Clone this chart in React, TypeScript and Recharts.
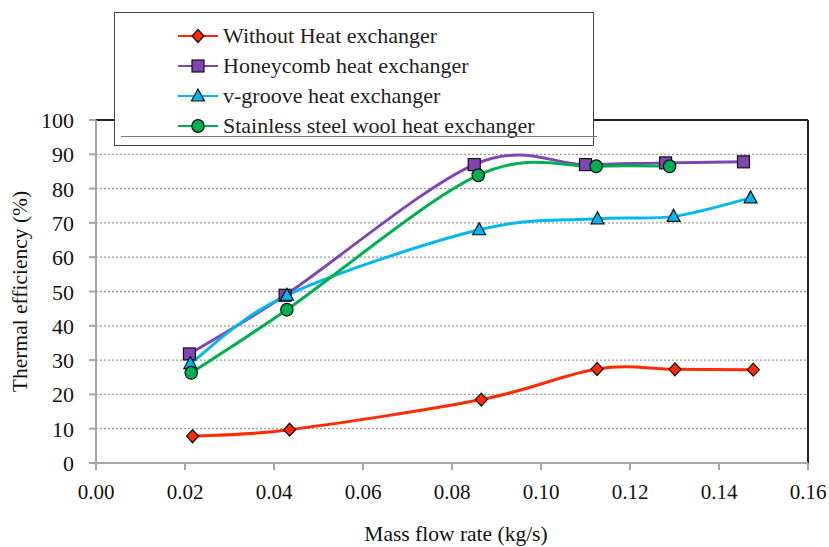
import React from 'react';
import { LineChart, Line, XAxis, YAxis, CartesianGrid, ReferenceLine } from 'recharts';

const withoutHx = [
  { x: 0.0217, y: 7.8 },
  { x: 0.0435, y: 9.7 },
  { x: 0.0866, y: 18.5 },
  { x: 0.1126, y: 27.4 },
  { x: 0.1301, y: 27.3 },
  { x: 0.1477, y: 27.2 },
];

const honeycomb = [
  { x: 0.021, y: 31.8 },
  { x: 0.0425, y: 48.9 },
  { x: 0.085, y: 87.0 },
  { x: 0.110, y: 87.0 },
  { x: 0.128, y: 87.5 },
  { x: 0.1455, y: 87.8 },
];

const vGroove = [
  { x: 0.0212, y: 29.0 },
  { x: 0.0429, y: 48.9 },
  { x: 0.0861, y: 68.0 },
  { x: 0.1127, y: 71.2 },
  { x: 0.1298, y: 71.9 },
  { x: 0.1471, y: 77.3 },
];

const steelWool = [
  { x: 0.0214, y: 26.3 },
  { x: 0.0429, y: 44.7 },
  { x: 0.0859, y: 83.9 },
  { x: 0.1124, y: 86.5 },
  { x: 0.1289, y: 86.5 },
];

const xTicks = [0, 0.02, 0.04, 0.06, 0.08, 0.1, 0.12, 0.14, 0.16];
const yTicks = [0, 10, 20, 30, 40, 50, 60, 70, 80, 90, 100];

const seriesNames = [
  'Without Heat exchanger',
  'Honeycomb heat exchanger',
  'v-groove heat exchanger',
  'Stainless steel wool heat exchanger',
];

const FONT = '"Liberation Serif", "Times New Roman", serif';
const RED = '#ff2a00';
const PURPLE = '#8045b0';
const CYAN = '#00b8f0';
const GREEN = '#00b050';

// spreadsheet-style smoothed line: cubic bezier, control points from neighbours / 6
function smoothCurve(context: any) {
  let pts: [number, number][] = [];
  return {
    areaStart() {},
    areaEnd() {},
    lineStart() { pts = []; },
    point(x: number, y: number) { pts.push([+x, +y]); },
    lineEnd() {
      if (!pts.length) return;
      context.moveTo(pts[0][0], pts[0][1]);
      for (let i = 0; i < pts.length - 1; i++) {
        const p0 = pts[Math.max(i - 1, 0)];
        const p1 = pts[i];
        const p2 = pts[i + 1];
        const p3 = pts[Math.min(i + 2, pts.length - 1)];
        context.bezierCurveTo(
          p1[0] + (p2[0] - p0[0]) / 6, p1[1] + (p2[1] - p0[1]) / 6,
          p2[0] - (p3[0] - p1[0]) / 6, p2[1] - (p3[1] - p1[1]) / 6,
          p2[0], p2[1],
        );
      }
    },
  };
}

type Shape = 'diamond' | 'square' | 'triangle' | 'circle';

function Marker({ cx, cy, shape, fill }: { cx: number; cy: number; shape: Shape; fill: string }) {
  const s = { fill, stroke: '#111', strokeWidth: 1.2 };
  if (shape === 'diamond') {
    return <path d={`M${cx},${cy - 6.5}L${cx + 6},${cy}L${cx},${cy + 6.5}L${cx - 6},${cy}Z`} {...s} />;
  }
  if (shape === 'square') {
    return <rect x={cx - 6} y={cy - 6} width={12} height={12} {...s} />;
  }
  if (shape === 'triangle') {
    return <path d={`M${cx},${cy - 7}L${cx + 6.5},${cy + 5}L${cx - 6.5},${cy + 5}Z`} {...s} />;
  }
  return <ellipse cx={cx} cy={cy} rx={6.2} ry={6.4} {...s} />;
}

const dotFor = (shape: Shape, fill: string) => (props: any) => {
  const { cx, cy, index } = props;
  if (cx == null || cy == null) return <g key={index} />;
  return <Marker key={`${shape}-${index}`} cx={cx} cy={cy} shape={shape} fill={fill} />;
};

const legendItems: { name: string; color: string; shape: Shape }[] = [
  { name: seriesNames[0], color: RED, shape: 'diamond' },
  { name: seriesNames[1], color: PURPLE, shape: 'square' },
  { name: seriesNames[2], color: CYAN, shape: 'triangle' },
  { name: seriesNames[3], color: GREEN, shape: 'circle' },
];

const textStyle = { fontFamily: FONT, fill: '#111' };

function XTick(props: any) {
  const { x, y, payload } = props;
  return (
    <text x={x} y={y + 27} textAnchor="middle" style={{ ...textStyle, fontSize: 21 }}>
      {Number(payload.value).toFixed(2)}
    </text>
  );
}

function YTick(props: any) {
  const { x, y, payload } = props;
  return (
    <text x={x - 13} y={y + 8} textAnchor="end" style={{ ...textStyle, fontSize: 22 }}>
      {payload.value}
    </text>
  );
}

function YTitle(props: any) {
  const vb = props.viewBox || { x: 0, y: 120, width: 96, height: 343 };
  const x = vb.x + 20;
  const y = vb.y + vb.height / 2;
  return (
    <text x={x} y={y} transform={`rotate(-90 ${x} ${y})`} textAnchor="middle" dominantBaseline="central"
      style={{ ...textStyle, fontSize: 21.5 }}>
      Thermal efficiency (%)
    </text>
  );
}

function XTitle(props: any) {
  const vb = props.viewBox || { x: 96, y: 463, width: 712, height: 84 };
  return (
    <text x={vb.x + vb.width / 2 + 4} y={vb.y + 78} textAnchor="middle" style={{ ...textStyle, fontSize: 21.5 }}>
      Mass flow rate (kg/s)
    </text>
  );
}

export default function App() {
  return (
    <div style={{ position: 'absolute', left: 0, top: 0, width: 829, height: 547, background: '#fff' }}>
      <LineChart width={829} height={547} margin={{ top: 120, right: 21, left: 0, bottom: 0 }}>
        <CartesianGrid vertical={false} stroke="#9a9a9a" strokeDasharray="2 2" strokeWidth={1.3} />
        <XAxis
          type="number"
          dataKey="x"
          domain={[0, 0.16]}
          ticks={xTicks}
          height={84}
          tick={<XTick />}
          tickSize={7}
          stroke="#a6a6a6"
          strokeWidth={2}
          label={<XTitle />}
          allowDuplicatedCategory={false}
        />
        <YAxis
          type="number"
          dataKey="y"
          domain={[0, 100]}
          ticks={yTicks}
          width={96}
          tick={<YTick />}
          tickSize={7}
          stroke="#a6a6a6"
          strokeWidth={2}
          label={<YTitle />}
        />
        <ReferenceLine y={100} stroke="#222" strokeWidth={2} ifOverflow="visible" />
        <ReferenceLine x={0.16} stroke="#222" strokeWidth={2} ifOverflow="visible" />
        <Line data={withoutHx} dataKey="y" name={seriesNames[0]} type={smoothCurve as any} stroke={RED} strokeWidth={3}
          dot={dotFor('diamond', RED)} activeDot={false} isAnimationActive={false} />
        <Line data={honeycomb} dataKey="y" name={seriesNames[1]} type={smoothCurve as any} stroke={PURPLE} strokeWidth={3}
          dot={dotFor('square', PURPLE)} activeDot={false} isAnimationActive={false} />
        <Line data={vGroove} dataKey="y" name={seriesNames[2]} type={smoothCurve as any} stroke={CYAN} strokeWidth={3}
          dot={dotFor('triangle', CYAN)} activeDot={false} isAnimationActive={false} />
        <Line data={steelWool} dataKey="y" name={seriesNames[3]} type={smoothCurve as any} stroke={GREEN} strokeWidth={3}
          dot={dotFor('circle', GREEN)} activeDot={false} isAnimationActive={false} />
      </LineChart>

      {/* legend box sits over the top of the plot, like in the original */}
      <div
        style={{
          position: 'absolute', left: 114, top: 12, width: 478, height: 132,
          border: '1.5px solid #444', background: '#fff', fontFamily: FONT, fontSize: 22, color: '#222',
        }}
      >
        {legendItems.map((item, i) => (
          <div key={item.name} style={{ position: 'absolute', left: 62, top: 8 + i * 30, height: 30, display: 'flex', alignItems: 'center' }}>
            <svg width={44} height={20} style={{ marginRight: 2 }}>
              <line x1={1} y1={10} x2={41} y2={10} stroke={item.color} strokeWidth={2} />
              <Marker cx={21} cy={10} shape={item.shape} fill={item.color} />
            </svg>
            <span style={{ lineHeight: '30px', whiteSpace: 'nowrap' }}>{item.name}</span>
          </div>
        ))}
      </div>
      <div style={{ position: 'absolute', left: 121, top: 136, width: 476, height: 1, background: '#777' }} />
    </div>
  );
}
